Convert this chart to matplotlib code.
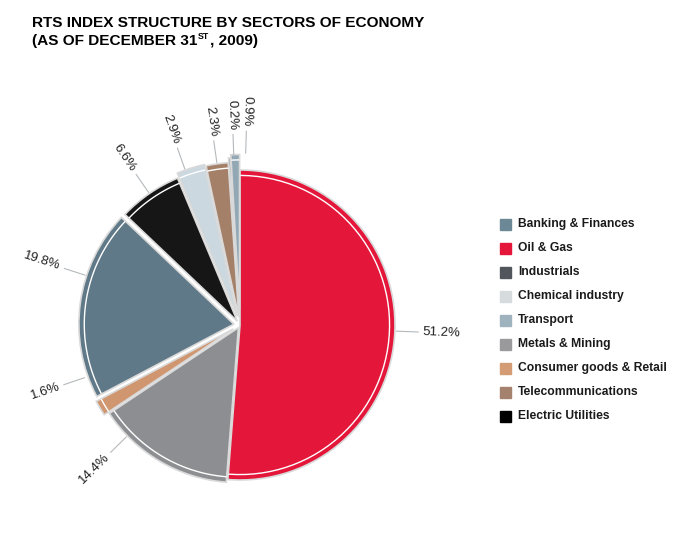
import numpy as np
import matplotlib.pyplot as plt
from matplotlib.patches import Rectangle

# slices, clockwise from 12 o'clock
sectors = ["Oil & Gas", "Metals & Mining", "Consumer goods & Retail",
           "Banking & Finances", "Electric Utilities", "Chemical industry",
           "Telecommunications", "Industrials", "Transport"]
shares = [51.2, 14.4, 1.6, 19.8, 6.6, 2.9, 2.3, 0.2, 0.9]
labels = ["51.2%", "14.4%", "1.6%", "19.8%", "6.6%", "2.9%", "2.3%", "0.2%", "0.9%"]

# legend order as in the picture
legend_items = ["Banking & Finances", "Oil & Gas", "Industrials", "Chemical industry",
                "Transport", "Metals & Mining", "Consumer goods & Retail",
                "Telecommunications", "Electric Utilities"]

colors = {
    "Oil & Gas": "#e4173a",
    "Metals & Mining": "#8d8e91",
    "Consumer goods & Retail": "#cf9670",
    "Banking & Finances": "#5f7988",
    "Electric Utilities": "#161616",
    "Chemical industry": "#cbd8df",
    "Telecommunications": "#a58069",
    "Industrials": "#50565b",
    "Transport": "#93a8b5",
}
legend_colors = dict(colors)
legend_colors["Chemical industry"] = "#d6dbdd"
legend_colors["Transport"] = "#9fb3bf"
legend_colors["Banking & Finances"] = "#6c8896"
legend_colors["Metals & Mining"] = "#9a9a9c"
legend_colors["Consumer goods & Retail"] = "#d49c74"
legend_colors["Telecommunications"] = "#a4826e"
legend_colors["Electric Utilities"] = "#000000"

explode = [0.0, 0.02, 0.05, 0.04, 0.03, 0.06, 0.05, 0.08, 0.1]
label_nudge = [0, -15, -12, -10, 0, 2, 0, -1.5, -3.5]

W, H = 700, 543
R = 155.0          # pixels per unit radius
cx, cy = 240, 325  # pie centre, pixels from top-left

plt.rcParams['font.family'] = ['Liberation Sans', 'DejaVu Sans']
fig = plt.figure(figsize=(7, 5.43), dpi=100)
ax = fig.add_axes([0, 0, 1, 1])

wedges, _ = ax.pie(shares, colors=[colors[s] for s in sectors], startangle=90,
                   counterclock=False, explode=explode, radius=1.0,
                   wedgeprops=dict(edgecolor="#d9d9d9", linewidth=1.2))
# thin white rim inside each slice
for w in wedges:
    th1, th2 = w.theta1, w.theta2
    c = w.center
    t = np.radians(np.linspace(th1 + 0.4, th2 - 0.4, 60))
    if th2 - th1 > 2:
        ax.plot(c[0] + 0.965 * np.cos(t), c[1] + 0.965 * np.sin(t), color="white", lw=1.0)

for w, lab, ex, nd in zip(wedges, labels, explode, label_nudge):
    mid = (w.theta1 + w.theta2) / 2.0
    ang = np.radians(mid + nd)
    r0 = 1.0 + ex + 0.01
    x0, y0 = r0 * np.cos(ang), r0 * np.sin(ang)
    r1 = r0 + 0.14
    x1, y1 = r1 * np.cos(ang), r1 * np.sin(ang)
    ax.plot([x0, x1], [y0, y1], color="#b5b9bc", lw=0.8)
    r2 = r1 + 0.03
    x2, y2 = r2 * np.cos(ang), r2 * np.sin(ang)
    deg = np.degrees(ang)
    if -90 <= deg <= 90:
        rot, ha = deg, "left"
    else:
        rot, ha = deg - 180, "right"
    ax.text(x2, y2, lab, rotation=rot, rotation_mode="anchor", ha=ha, va="center",
            fontsize=9.5, color="#222222")

ax.set_xlim(-cx / R, (W - cx) / R)
ax.set_ylim(-(H - cy) / R, cy / R)
ax.set_aspect("auto")
ax.axis("off")

# legend
for i, name in enumerate(legend_items):
    yc = 224 + 24 * i
    fig.patches.append(Rectangle((500 / W, 1 - (yc + 5.5) / H), 11 / W, 11 / H,
                                 transform=fig.transFigure, color=legend_colors[name]))
    fig.text(518 / W, 1 - yc / H, name, fontsize=8.7, color="#1a1a1a", va="center",
             ha="left", fontweight="bold")

# title
fig.text(32 / W, 1 - 27 / H, "RTS INDEX STRUCTURE BY SECTORS OF ECONOMY",
         fontsize=11.1, fontweight="bold", va="baseline", ha="left")
t1 = fig.text(32 / W, 1 - 45 / H, "(AS OF DECEMBER 31", fontsize=11.1,
              fontweight="bold", va="baseline", ha="left")
fig.canvas.draw()
rend = fig.canvas.get_renderer()
bb = t1.get_window_extent(rend)
t2 = fig.text((bb.x1 + 0.5) / W, 1 - 39 / H, "ST", fontsize=6.3, fontweight="bold",
              va="baseline", ha="left")
bb2 = t2.get_window_extent(rend)
fig.text((bb2.x1 + 0.5) / W, 1 - 45 / H, ", 2009)", fontsize=11.1,
         fontweight="bold", va="baseline", ha="left")

fig.savefig("out.png", dpi=100, facecolor="white")
